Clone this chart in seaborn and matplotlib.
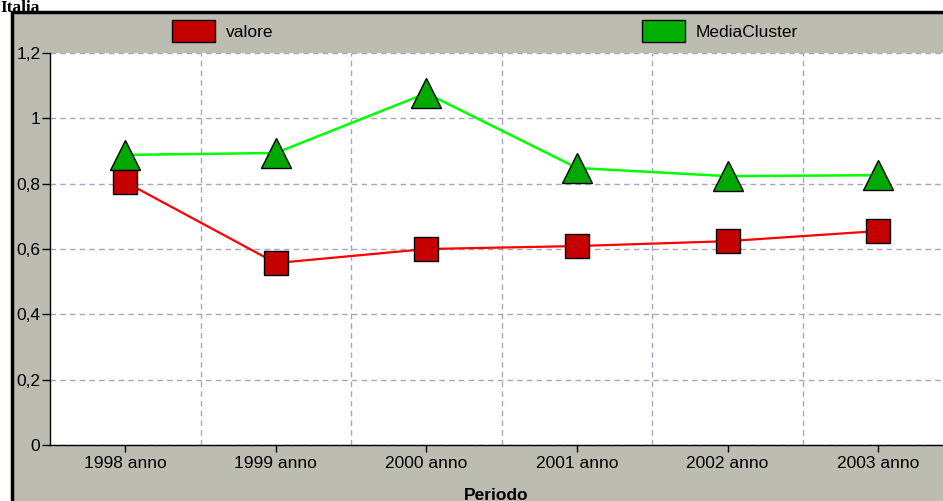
import numpy as np
import pandas as pd
import matplotlib
matplotlib.use("Agg")
import matplotlib.pyplot as plt
import matplotlib.patches as mpatches
import seaborn as sns

# data
periodi = ["1998 anno", "1999 anno", "2000 anno", "2001 anno", "2002 anno", "2003 anno"]
valore = [0.805, 0.557, 0.600, 0.609, 0.624, 0.655]
media_cluster = [0.888, 0.894, 1.077, 0.848, 0.823, 0.826]
y_ticks = [0, 0.2, 0.4, 0.6, 0.8, 1.0, 1.2]
y_labels = ["0", "0,2", "0,4", "0,6", "0,8", "1", "1,2"]

sns.set_style("white")
plt.rcParams["font.family"] = ["Liberation Sans", "DejaVu Sans"]
plt.rcParams["text.color"] = "black"
plt.rcParams["axes.labelcolor"] = "black"
plt.rcParams["xtick.labelcolor"] = "black"
plt.rcParams["ytick.labelcolor"] = "black"

panel = "#bcbcb0"
fig = plt.figure(figsize=(9.43, 5.01), dpi=100)
fig.patch.set_facecolor("white")

# grey panel with black frame, behind the axes
frame = mpatches.Rectangle((12 / 943, -0.05), 1.0, (501 - 12) / 501 + 0.05,
                           transform=fig.transFigure, facecolor=panel,
                           edgecolor="black", linewidth=2.5, zorder=-10)
fig.patches.append(frame)

fig.text(0.0, 1.0, "Italia", family="Liberation Serif", fontweight="bold",
         fontsize=12.5, ha="left", va="top")

ax = fig.add_axes([50 / 943, 56 / 501, (943 - 50) / 943, 392 / 501])
ax.set_zorder(5)
ax.set_facecolor("white")

df = pd.DataFrame({"x": np.arange(len(periodi)), "valore": valore, "MediaCluster": media_cluster})

sns.lineplot(data=df, x="x", y="valore", ax=ax, color="#ff0000", linewidth=1.6,
             marker="s", markersize=17, markerfacecolor="#c40000",
             markeredgecolor="black", markeredgewidth=1.0, zorder=4)
sns.lineplot(data=df, x="x", y="MediaCluster", ax=ax, color="#00ff00", linewidth=1.8,
             marker="^", markersize=21, markerfacecolor="#00a800",
             markeredgecolor="black", markeredgewidth=1.0, zorder=3)

ax.set_xlim(-0.5, 5.43)
ax.set_ylim(0, 1.2)
ax.set_xticks(np.arange(len(periodi)))
ax.set_xticklabels(periodi)
ax.set_xticks(np.arange(len(periodi) - 1) + 0.5, minor=True)
ax.set_yticks(y_ticks)
ax.set_yticklabels(y_labels)

ax.grid(False)
ax.yaxis.grid(True, which="major", color="#a6a6c4", linestyle=(0, (4, 3)), linewidth=1.0)
ax.xaxis.grid(True, which="minor", color="#a6a6c4", linestyle=(0, (4, 3)), linewidth=1.0)
ax.set_axisbelow(True)

for s in ["top", "right"]:
    ax.spines[s].set_visible(False)
for s in ["left", "bottom"]:
    ax.spines[s].set_color("black")
    ax.spines[s].set_linewidth(1.0)

ax.tick_params(axis="x", which="major", direction="out", length=5, width=1, color="black",
               labelsize=12.5, pad=3, bottom=True)
ax.tick_params(axis="x", which="minor", length=0)
ax.tick_params(axis="y", direction="out", length=6, width=1, color="black",
               labelsize=12.5, pad=1, left=True)

ax.set_xlabel("Periodo", fontweight="bold", fontsize=12.5, labelpad=12)
ax.set_ylabel("")

# legend entries in the grey band above the plot
h1 = mpatches.Rectangle((0, 0), 1, 1, facecolor="#c40000", edgecolor="black")
h2 = mpatches.Rectangle((0, 0), 1, 1, facecolor="#00b000", edgecolor="black")
for h, lab, x0 in [(h1, "valore", 156), (h2, "MediaCluster", 626)]:
    leg = fig.legend([h], [lab], loc="center left", bbox_to_anchor=(x0 / 943, 1 - 31 / 501),
                     frameon=False, fontsize=12.5, handlelength=2.5, handleheight=1.5,
                     handletextpad=0.6)
    leg.set_zorder(6)

fig.savefig("out.png", dpi=100, facecolor=fig.get_facecolor())
